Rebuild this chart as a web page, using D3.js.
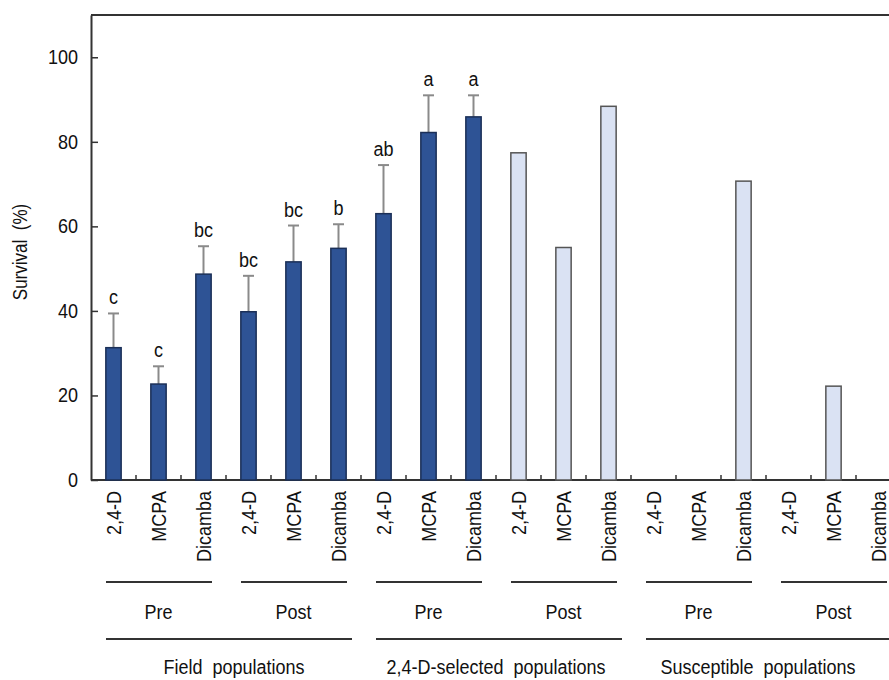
<!DOCTYPE html>
<html>
<head>
<meta charset="utf-8">
<script src="https://cdn.jsdelivr.net/npm/d3@7"></script>
<style>
  body { margin: 0; background: #fff; }
  text { font-family: Arial, "Liberation Sans", sans-serif; fill: #111; }
</style>
</head>
<body>
<svg id="mainsvg" width="889" height="680"></svg>
<script>
// data
const herbicides = ['2,4-D', 'MCPA', 'Dicamba'];
const timings = ['Pre', 'Post'];
const populations = ['Field  populations', '2,4-D-selected  populations', 'Susceptible  populations'];
const survival = [31.3, 22.7, 48.7, 39.8, 51.6, 54.8, 63.0, 82.2, 85.9,
                  77.4, 55.0, 88.4, 0, 0, 70.7, 0, 22.2, 0];
const errors = [8.1, 4.2, 6.6, 8.5, 8.6, 5.7, 11.5, 8.8, 5.1];
const letters = ['c', 'c', 'bc', 'bc', 'bc', 'b', 'ab', 'a', 'a'];
const yTicks = [0, 20, 40, 60, 80, 100];

const svg = d3.select('#mainsvg');
const g = svg.append('g');
const tall = 'scale(1,1.17)';   // the original lettering is narrow and tall

// one row per bar
const rows = [];
populations.forEach((p, pi) => timings.forEach((t, ti) => herbicides.forEach((h, hi) => {
  const i = rows.length;
  rows.push({i, pop: p, timing: t, herb: h, value: survival[i],
    err: errors[i], letter: letters[i], replicated: pi === 0 || (pi === 1 && ti === 0)});
})));

const x = d3.scaleBand().domain(rows.map(d => d.i)).range([91, 901]).padding(0);
const y = d3.scaleLinear().domain([0, 110]).range([480, 15]);
const barW = x.bandwidth() * 0.34;
const cx = i => x(i) + x.bandwidth() / 2;

// frame: top line
g.append('line')
  .attr('x1', 91).attr('x2', 889)
  .attr('y1', y(110)).attr('y2', y(110))
  .attr('stroke', '#333').attr('stroke-width', 2);

// y axis with inward ticks
const yAxis = g.append('g')
  .attr('transform', 'translate(91,0)')
  .call(d3.axisLeft(y).tickValues(yTicks).tickSizeInner(-7).tickSizeOuter(0).tickPadding(13));
yAxis.select('.domain').attr('stroke', '#333').attr('stroke-width', 2);
yAxis.selectAll('.tick line').attr('stroke', '#333').attr('stroke-width', 1.5);
yAxis.selectAll('.tick text').attr('font-size', 18).attr('fill', '#111')
  .attr('font-family', 'Arial, "Liberation Sans", sans-serif')
  .attr('dy', null)
  .attr('transform', 'translate(0,6.5) ' + tall);

// x axis line and small ticks between bars
g.append('line')
  .attr('x1', 91).attr('x2', 889)
  .attr('y1', y(0)).attr('y2', y(0))
  .attr('stroke', '#333').attr('stroke-width', 2);
g.selectAll('.xtick')
  .data(rows.slice(1))
  .join('line')
  .attr('class', 'xtick')
  .attr('x1', d => x(d.i)).attr('x2', d => x(d.i))
  .attr('y1', y(0)).attr('y2', y(0) - 5)
  .attr('stroke', '#333').attr('stroke-width', 1.5);

// error bars (upper only)
const withErr = rows.filter(d => d.err !== undefined);
g.selectAll('.errline')
  .data(withErr)
  .join('line')
  .attr('class', 'errline')
  .attr('x1', d => cx(d.i)).attr('x2', d => cx(d.i))
  .attr('y1', d => y(d.value)).attr('y2', d => y(d.value + d.err))
  .attr('stroke', '#8a8a8a').attr('stroke-width', 2);
g.selectAll('.errcap')
  .data(withErr)
  .join('line')
  .attr('class', 'errcap')
  .attr('x1', d => cx(d.i) - 5.5).attr('x2', d => cx(d.i) + 5.5)
  .attr('y1', d => y(d.value + d.err)).attr('y2', d => y(d.value + d.err))
  .attr('stroke', '#8a8a8a').attr('stroke-width', 2);

// bars
g.selectAll('.datarect')
  .data(rows.filter(d => d.value > 0))
  .join('rect')
  .attr('class', 'datarect')
  .attr('x', d => cx(d.i) - barW / 2)
  .attr('width', barW)
  .attr('y', d => y(d.value))
  .attr('height', d => y(0) - y(d.value))
  .attr('fill', d => d.replicated ? '#2e5395' : '#dae2f3')
  .attr('stroke', d => d.replicated ? '#1b2f57' : '#555')
  .attr('stroke-width', 1.5);

// significance letters
g.selectAll('.letter')
  .data(withErr)
  .join('text')
  .attr('class', 'letter')
  .attr('transform', d => `translate(${cx(d.i)},${y(d.value + d.err) - 9}) ${tall}`)
  .attr('text-anchor', 'middle')
  .attr('font-size', 18)
  .text(d => d.letter);

// rotated herbicide labels
g.selectAll('.xlabel')
  .data(rows)
  .join('text')
  .attr('class', 'xlabel')
  .attr('transform', d => `translate(${cx(d.i)},491) rotate(-90) ${tall}`)
  .attr('text-anchor', 'end')
  .attr('dy', '0.36em')
  .attr('font-size', 18)
  .text(d => d.herb);

// timing groups
const nH = herbicides.length;
const timingGroups = d3.range(rows.length / nH).map(k => ({
  x0: x(k * nH), x1: x(k * nH) + nH * x.step(), label: timings[k % timings.length]
}));
g.selectAll('.tline')
  .data(timingGroups)
  .join('line')
  .attr('class', 'tline')
  .attr('x1', d => d.x0 + 15).attr('x2', d => d.x1 - 14)
  .attr('y1', 582).attr('y2', 582)
  .attr('stroke', '#333').attr('stroke-width', 2);
g.selectAll('.tlabel')
  .data(timingGroups)
  .join('text')
  .attr('class', 'tlabel')
  .attr('transform', d => `translate(${(d.x0 + d.x1) / 2},619) ${tall}`)
  .attr('text-anchor', 'middle')
  .attr('font-size', 18)
  .text(d => d.label);

// population groups
const nP = nH * timings.length;
const popGroups = populations.map((p, k) => ({
  x0: x(k * nP), x1: x(k * nP) + nP * x.step(), label: p
}));
g.selectAll('.pline')
  .data(popGroups)
  .join('line')
  .attr('class', 'pline')
  .attr('x1', d => d.x0 + 15).attr('x2', d => d.x1 - 9)
  .attr('y1', 639).attr('y2', 639)
  .attr('stroke', '#333').attr('stroke-width', 2);
g.selectAll('.plabel')
  .data(popGroups)
  .join('text')
  .attr('class', 'plabel')
  .attr('transform', (d, k) => `translate(${(d.x0 + d.x1) / 2 + (k === 0 ? 8 : k === 2 ? -8 : 0)},674) ${tall}`)
  .attr('text-anchor', 'middle')
  .attr('font-size', 18)
  .style('white-space', 'pre')
  .text(d => d.label);

// y axis title
g.append('text')
  .attr('transform', `translate(20,252) rotate(-90) ${tall}`)
  .attr('text-anchor', 'middle')
  .attr('dy', '0.36em')
  .attr('font-size', 17)
  .style('white-space', 'pre')
  .text('Survival  (%)');
</script>
</body>
</html>
